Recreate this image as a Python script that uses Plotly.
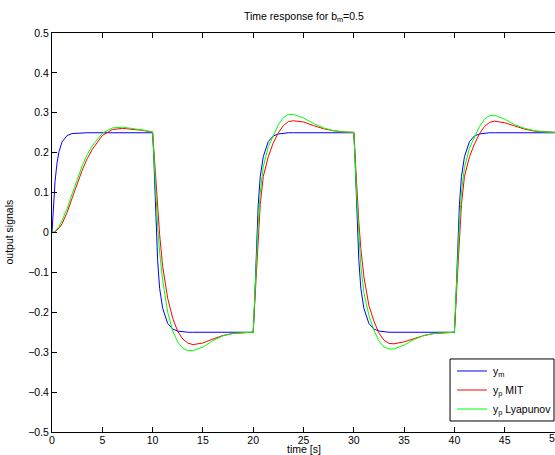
import plotly.graph_objects as go

# time samples [s]
t = [0, 0.1, 0.2, 0.3, 0.5, 0.7, 1, 1.5, 2, 2.5, 3, 3.5, 4, 5, 6, 7, 8, 9,
     10, 10.1, 10.2, 10.3, 10.5, 10.7, 11, 11.5, 12, 12.5, 13, 13.5, 14, 15, 16, 17, 18, 19,
     20, 20.1, 20.2, 20.3, 20.5, 20.7, 21, 21.5, 22, 22.5, 23, 23.5, 24, 25, 26, 27, 28, 29,
     30, 30.1, 30.2, 30.3, 30.5, 30.7, 31, 31.5, 32, 32.5, 33, 33.5, 34, 35, 36, 37, 38, 39,
     40, 40.1, 40.2, 40.3, 40.5, 40.7, 41, 41.5, 42, 42.5, 43, 43.5, 44, 45, 46, 47, 48, 49,
     50]

y_m = [0, 0.053, 0.095, 0.128, 0.174, 0.203, 0.227, 0.243, 0.248, 0.249, 0.25, 0.25, 0.25, 0.25, 0.25, 0.25, 0.25, 0.25,
       0.25, 0.2, 0.12, 0.045, -0.07, -0.14, -0.19, -0.228, -0.242, -0.247, -0.249, -0.25, -0.25, -0.25, -0.25, -0.25, -0.25, -0.25,
       -0.25, -0.2, -0.12, -0.045, 0.07, 0.14, 0.19, 0.228, 0.242, 0.247, 0.249, 0.25, 0.25, 0.25, 0.25, 0.25, 0.25, 0.25,
       0.25, 0.2, 0.12, 0.045, -0.07, -0.14, -0.19, -0.228, -0.242, -0.247, -0.249, -0.25, -0.25, -0.25, -0.25, -0.25, -0.25, -0.25,
       -0.25, -0.2, -0.12, -0.045, 0.07, 0.14, 0.19, 0.228, 0.242, 0.247, 0.249, 0.25, 0.25, 0.25, 0.25, 0.25, 0.25, 0.25,
       0.25]

y_p_mit = [0, 0.0, 0.001, 0.002, 0.006, 0.011, 0.022, 0.05, 0.086, 0.123, 0.156, 0.185, 0.208, 0.243, 0.258, 0.261, 0.259, 0.256,
           0.252, 0.215, 0.175, 0.13, 0.06, -0.005, -0.085, -0.165, -0.215, -0.248, -0.267, -0.277, -0.281, -0.277, -0.267, -0.258, -0.253, -0.251,
           -0.25, -0.2, -0.15, -0.1, -0.005, 0.07, 0.14, 0.19, 0.225, 0.25, 0.268, 0.278, 0.28, 0.277, 0.268, 0.26, 0.255, 0.252,
           0.251, 0.2, 0.15, 0.1, 0.025, -0.04, -0.11, -0.183, -0.222, -0.252, -0.27, -0.278, -0.279, -0.274, -0.266, -0.258, -0.253, -0.251,
           -0.25, -0.2, -0.15, -0.1, -0.01, 0.07, 0.14, 0.19, 0.222, 0.248, 0.266, 0.276, 0.279, 0.275, 0.267, 0.259, 0.254, 0.252,
           0.251]

y_p_lyap = [0, 0.0, 0.001, 0.003, 0.008, 0.015, 0.03, 0.06, 0.097, 0.134, 0.167, 0.195, 0.217, 0.249, 0.262, 0.264, 0.261, 0.257,
            0.252, 0.2, 0.145, 0.095, 0.015, -0.05, -0.12, -0.2, -0.247, -0.275, -0.29, -0.296, -0.296, -0.287, -0.271, -0.259, -0.253, -0.251,
            -0.25, -0.19, -0.13, -0.07, 0.02, 0.1, 0.165, 0.215, 0.243, 0.27, 0.288, 0.296, 0.296, 0.287, 0.273, 0.262, 0.255, 0.252,
            0.251, 0.19, 0.135, 0.085, 0.0, -0.085, -0.15, -0.207, -0.245, -0.272, -0.287, -0.292, -0.292, -0.282, -0.268, -0.258, -0.253, -0.251,
            -0.25, -0.19, -0.13, -0.07, 0.02, 0.1, 0.163, 0.212, 0.24, 0.266, 0.284, 0.293, 0.294, 0.284, 0.27, 0.261, 0.255, 0.252,
            0.251]

series_names = ["y<sub>m</sub>", "y<sub>p</sub> MIT", "y<sub>p</sub> Lyapunov"]
series_colors = ["rgb(0,0,255)", "rgb(255,0,0)", "rgb(0,255,0)"]

x_ticks = [0, 5, 10, 15, 20, 25, 30, 35, 40, 45]
x_tick_last = 50
y_ticks = [-0.5, -0.4, -0.3, -0.2, -0.1, 0, 0.1, 0.2, 0.3, 0.4, 0.5]
y_tick_text = ["\u22120.5", "\u22120.4", "\u22120.3", "\u22120.2", "\u22120.1", "0", "0.1", "0.2", "0.3", "0.4", "0.5"]

FONT = "Liberation Sans, Arial, Helvetica, sans-serif"
FS = 10.5

fig = go.Figure()
for ys, nm, col in zip([y_m, y_p_mit, y_p_lyap], series_names, series_colors):
    fig.add_trace(go.Scatter(x=t, y=ys, mode="lines", name=nm, showlegend=False,
                             line=dict(color=col, width=1)))

axis_common = dict(showgrid=False, zeroline=False, ticks="inside", ticklen=5,
                   tickwidth=1, tickcolor="black", linecolor="black", linewidth=1,
                   tickfont=dict(family=FONT, size=FS, color="black"), automargin=False)

# legend drawn as a boxed inset (paper coordinates)
leg_x0, leg_x1, leg_y0, leg_y1 = 0.7913, 0.998, 0.0276, 0.183
leg_line_x0, leg_line_x1, leg_text_x = 0.8052, 0.8648, 0.8728
leg_rows = [0.1529, 0.1053, 0.0576]

shapes = [dict(type="rect", xref="paper", yref="paper", x0=leg_x0, x1=leg_x1, y0=leg_y0, y1=leg_y1,
               fillcolor="white", line=dict(color="black", width=1), layer="above")]
annotations = [
    dict(text="Time response for b<sub>m</sub>=0.5", xref="paper", yref="paper",
         x=0.5, y=1, yshift=16, xanchor="center", yanchor="middle", showarrow=False,
         font=dict(family=FONT, size=FS, color="black")),
    dict(text="time [s]", xref="paper", yref="paper", x=0.5, y=0, yshift=-17,
         xanchor="center", yanchor="middle", showarrow=False,
         font=dict(family=FONT, size=FS, color="black")),
    dict(text="output signals", xref="paper", yref="paper", x=0, y=0.5, xshift=-44,
         textangle=-90, xanchor="center", yanchor="middle", showarrow=False,
         font=dict(family=FONT, size=FS, color="black")),
    dict(text=str(x_tick_last), xref="x", yref="paper", x=x_tick_last, y=0, yshift=-6,
         xanchor="center", yanchor="middle", showarrow=False,
         font=dict(family=FONT, size=FS, color="black")),
]
for yy, nm, col in zip(leg_rows, series_names, series_colors):
    shapes.append(dict(type="line", xref="paper", yref="paper", x0=leg_line_x0, x1=leg_line_x1,
                       y0=yy, y1=yy, line=dict(color=col, width=1), layer="above"))
    annotations.append(dict(text=nm, xref="paper", yref="paper", x=leg_text_x, y=yy, yshift=-1,
                            xanchor="left", yanchor="middle", showarrow=False,
                            font=dict(family=FONT, size=FS, color="black")))

fig.update_layout(
    width=555, height=455,
    margin=dict(l=52, r=0, t=33, b=23),
    paper_bgcolor="white", plot_bgcolor="white",
    font=dict(family=FONT, size=FS, color="black"),
    showlegend=False,
    xaxis=dict(range=[0, 50], tickvals=x_ticks + [x_tick_last],
               ticktext=[str(v) for v in x_ticks] + [""], ticklabelstandoff=-2,
               showline=True, mirror="ticks", **axis_common),
    yaxis=dict(range=[-0.5, 0.5], tickvals=y_ticks, ticktext=y_tick_text, showline=True,
               mirror=False, **axis_common),
    shapes=shapes,
    annotations=annotations,
)

fig.write_html("out.html")
